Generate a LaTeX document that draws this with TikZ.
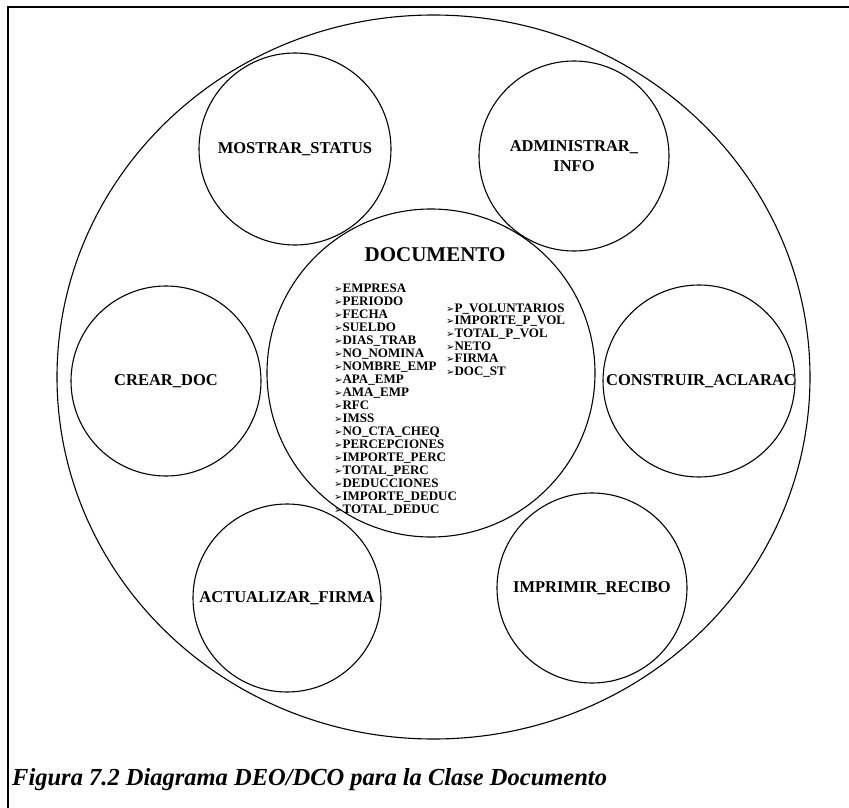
\documentclass[tikz,border=0pt]{standalone}
\usepackage{fontspec}
\setmainfont{Liberation Serif}
\newfontfamily\bulfont{DejaVu Sans}
\usetikzlibrary{shapes.geometric}
\newcommand\itembul{{\bulfont\fontsize{10}{10}\selectfont ➢}}
\begin{document}
\begin{tikzpicture}[x=1pt,y=-1pt,
  proc/.style={circle,draw,line width=1.1pt,minimum size=#1,inner sep=0pt},
  lbl/.style={font=\fontsize{16.5}{20}\selectfont\bfseries,align=center,inner sep=0pt},
  itm/.style={font=\fontsize{13}{13}\selectfont\bfseries,inner sep=0pt,anchor=base west},
  frame/.style={line width=1.8pt}
]
\useasboundingbox[fill=white] (0,0) rectangle (849,808);
% frame
\coordinate (ftr) at (849,7);
\coordinate (ftl) at (8,7);
\coordinate (fbl) at (8,808);
\draw[frame] (ftr) -- (ftl) -- (fbl);
% outer boundary
\node[ellipse,draw,line width=1.1pt,minimum width=753pt,minimum height=724pt,inner sep=0pt] (outer) at (433.5,377) {};
% central object
\node[proc=328pt] (doc) at (431,373) {};
\node[font=\fontsize{21}{21}\selectfont\bfseries,inner sep=0pt] (doct) at (435,255) {DOCUMENTO};
\foreach \t [count=\i] in {EMPRESA,PERIODO,FECHA,SUELDO,DIAS\_TRAB,NO\_NOMINA,NOMBRE\_EMP,APA\_EMP,AMA\_EMP,RFC,IMSS,NO\_CTA\_CHEQ,PERCEPCIONES,IMPORTE\_PERC,TOTAL\_PERC,DEDUCCIONES,IMPORTE\_DEDUC,TOTAL\_DEDUC}
  \node[itm] (l\i) at (334,{292+13*(\i-1)}) {\itembul\t};
\foreach \t [count=\i] in {P\_VOLUNTARIOS,IMPORTE\_P\_VOL,TOTAL\_P\_VOL,NETO,FIRMA,DOC\_ST}
  \node[itm] (r\i) at (446,{312+12.7*(\i-1)}) {\itembul\t};
% operations
\node[proc=192pt] (mostrar) at (295,149) {};
\node[lbl] (mostrart) at (mostrar) {MOSTRAR\_STATUS};
\node[proc=190pt] (admin) at (574,156) {};
\node[lbl] (admint) at (admin) {ADMINISTRAR\_\\INFO};
\node[proc=190pt] (crear) at (166,381) {};
\node[lbl] (creart) at (crear) {CREAR\_DOC};
\node[proc=192pt] (constr) at (699,381) {};
\node[lbl] (constrt) at ([xshift=2pt]constr.center) {CONSTRUIR\_ACLARAC};
\node[proc=188pt] (actual) at (287,598) {};
\node[lbl] (actualt) at (actual) {ACTUALIZAR\_FIRMA};
\node[proc=190pt] (impr) at (592,588) {};
\node[lbl] (imprt) at (impr) {IMPRIMIR\_RECIBO};
% caption
\node[font=\fontsize{24.5}{24.5}\selectfont\bfseries\itshape,inner sep=0pt,anchor=base west] (cap) at (12,785) {Figura 7.2 Diagrama DEO/DCO para la Clase Documento};
\end{tikzpicture}
\end{document}
